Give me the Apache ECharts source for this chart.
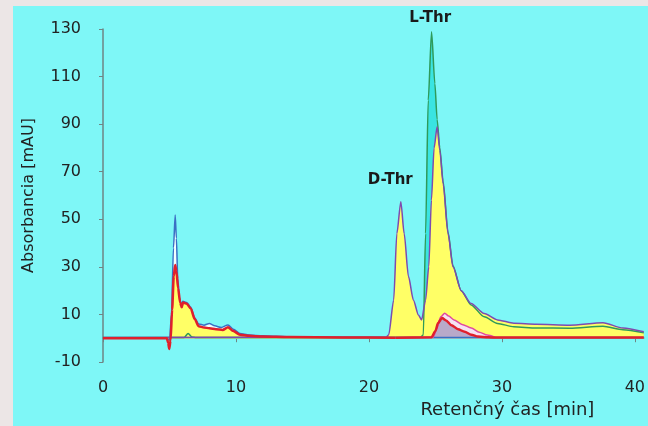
<!DOCTYPE html>
<html>
<head>
<meta charset="utf-8">
<script src="https://cdn.jsdelivr.net/npm/echarts@6/dist/echarts.min.js"></script>
<style>
html, body { margin: 0; padding: 0; width: 648px; height: 426px; overflow: hidden; background: #ece6e6; }
#main { position: absolute; left: 13px; top: 6px; width: 635px; height: 420px; }
</style>
</head>
<body>
<div id="main"></div>
<script>
// tick values
var xTicks = [0, 10, 20, 30, 40];
var yTicks = [-10, 10, 30, 50, 70, 90, 110, 130];

// peak labels, anchored at [time, absorbance]; L-Thr sits just above the top of the axis
var peakNames = ['D-Thr', 'L-Thr'];
var peakPos = [[21.6, 66.5], [24.6, 130]];
var peakShift = [0, -11];

// traces: [retention time (min), absorbance (mAU)]
var blueTrace = [[0, 0.2], [4.8, 0.2], [5.0, -1], [5.15, 10], [5.3, 38], [5.43, 51.8], [5.52, 42], [5.62, 25],
    [5.75, 17], [5.9, 14], [6.0, 15.5], [6.3, 15], [6.6, 13], [6.9, 8.5], [7.2, 6], [7.6, 5.5], [8.0, 6.2],
    [8.4, 5.2], [8.9, 4.5], [9.4, 5.6], [9.8, 3.8], [10.3, 2], [11, 1.3], [12, 1], [13, 0.8], [14, 0.6],
    [16, 0.4], [21, 0.3], [40.67, 0.3]];
var greenTrace = [[0, 0.3], [6.1, 0.3], [6.4, 2], [6.7, 0.5], [7, 0.3], [23.85, 0.3], [24.09, 1.3], [24.26, 44],
    [24.46, 100], [24.71, 128.8], [24.96, 107], [25.13, 92], [25.33, 80], [25.58, 66], [25.95, 44.5],
    [26.32, 30.5], [26.94, 20], [27.68, 14], [28.67, 9], [29.67, 6.2], [30.9, 4.8], [32.6, 4.3], [35.1, 4.2],
    [37.6, 5], [39.1, 3.6], [40.67, 2.3]];
var purpleTrace = [[0, 0.3], [21.3, 0.4], [21.49, 1.5], [21.86, 16], [22.1, 44], [22.4, 57.4], [22.65, 44],
    [22.97, 26], [23.35, 16], [23.72, 9.8], [23.96, 7.7], [24.26, 16], [24.5, 30], [24.7, 58], [24.9, 80],
    [25.13, 88.9], [25.33, 79], [25.58, 65], [25.95, 44], [26.32, 30], [26.94, 20], [27.68, 14.6],
    [28.67, 10.4], [29.67, 7.7], [30.9, 6.3], [32.6, 5.9], [35.1, 5.5], [37.6, 6.5], [39.1, 4.3], [40.67, 2.7]];
var redEarly = [[0, 0], [4.8, 0], [4.9, -2], [4.98, -4.5], [5.08, -1], [5.2, 12], [5.32, 26], [5.43, 30.8],
    [5.52, 28], [5.65, 21], [5.8, 15], [5.92, 13], [6.02, 15], [6.3, 14.5], [6.6, 12.5], [6.9, 8], [7.2, 5],
    [7.6, 4.5], [8.0, 4.2], [8.5, 3.8], [9.0, 3.5], [9.4, 4.6], [9.8, 3], [10.3, 1.5], [11, 1], [12, 0.7],
    [14, 0.5], [18, 0.3], [22, 0.2]];
var magentaTrace = [[22, 0.2], [24.83, 0.4], [25.1, 4], [25.4, 9], [25.7, 10.5], [26.0, 9.3], [26.4, 7.7],
    [27.0, 5.8], [27.7, 4.3], [28.3, 2.5], [28.9, 1.3], [29.5, 0.3]];
var redLate = [[22, 0.2], [24.7, 0.4], [25.0, 3], [25.2, 6.4], [25.5, 8.5], [25.8, 7.5], [26.2, 5.5],
    [26.7, 3.8], [27.2, 2.7], [27.7, 1.5], [28.2, 0.7], [29, 0.4], [29.7, 0.3], [40.67, 0.3]];

var FONT = 'DejaVu Sans';

function trace(name, data, lineColor, fillColor, width) {
    var common = {
        name: name,
        type: 'line',
        data: data,
        symbol: 'none',
        smooth: 0.25,
        smoothMonotone: 'x',
        silent: true
    };
    var area = Object.assign({}, common, {
        z: 2,
        lineStyle: { width: 0 },
        areaStyle: { color: fillColor, opacity: 1 }
    });
    var line = Object.assign({}, common, {
        z: 3,
        lineStyle: { color: lineColor, width: width }
    });
    return [area, line];
}

var chart = echarts.init(document.getElementById('main'));

var series = [].concat(
    trace('blue', blueTrace, '#3a6fc4', '#f2ffff', 1.5),
    trace('green', greenTrace, '#2f9a5a', '#3ae4e2', 1.5),
    trace('purple', purpleTrace, '#7d4bb0', '#ffff66', 1.5),
    trace('red', redEarly, '#e0202c', '#ffff66', 2.5),
    trace('magenta', magentaTrace, '#e04aa0', '#f6e2f2', 1.5),
    trace('red', redLate, '#e0202c', '#b8a9c9', 2.5)
);

// peak names as markPoint labels
series.push({
    type: 'scatter',
    data: [],
    silent: true,
    markPoint: {
        symbol: 'rect',
        symbolSize: 1,
        itemStyle: { color: 'rgba(0,0,0,0)' },
        label: {
            show: true,
            position: 'inside',
            formatter: '{b}',
            color: '#1a1a1a',
            fontFamily: FONT,
            fontWeight: 'bold',
            fontSize: 15
        },
        data: peakNames.map(function(n, i) {
            return { name: n, coord: peakPos[i], label: { offset: [0, peakShift[i]] } };
        })
    }
});

var option = {
    backgroundColor: '#7ef7f7',
    animation: false,
    grid: { left: 88, top: 23, right: 0, bottom: 64 },
    xAxis: {
        type: 'value',
        min: 0,
        max: 40.67,
        name: 'Retenčný čas [min]',
        nameLocation: 'middle',
        nameGap: 38,
        nameTextStyle: { fontFamily: FONT, fontSize: 18, color: '#222', padding: [0, 0, 0, 268] },
        axisLine: { lineStyle: { color: '#6f8585', width: 1.5 } },
        axisTick: { show: true, length: 4, customValues: xTicks, lineStyle: { color: '#6f8585' } },
        axisLabel: { customValues: xTicks, margin: 18, fontFamily: FONT, fontSize: 16, color: '#222' },
        splitLine: { show: false }
    },
    yAxis: {
        type: 'value',
        min: -10,
        max: 130,
        name: 'Absorbancia [mAU]',
        nameLocation: 'middle',
        nameGap: 66,
        nameTextStyle: { fontFamily: FONT, fontSize: 16, color: '#222' },
        axisLine: { show: true, lineStyle: { color: '#6f8585', width: 1.5 } },
        axisTick: { show: true, length: 4, customValues: yTicks, lineStyle: { color: '#6f8585' } },
        axisLabel: { customValues: yTicks, margin: 22, fontFamily: FONT, fontSize: 16, color: '#222' },
        splitLine: { show: false }
    },
    series: series
};

chart.setOption(option);
</script>
</body>
</html>
